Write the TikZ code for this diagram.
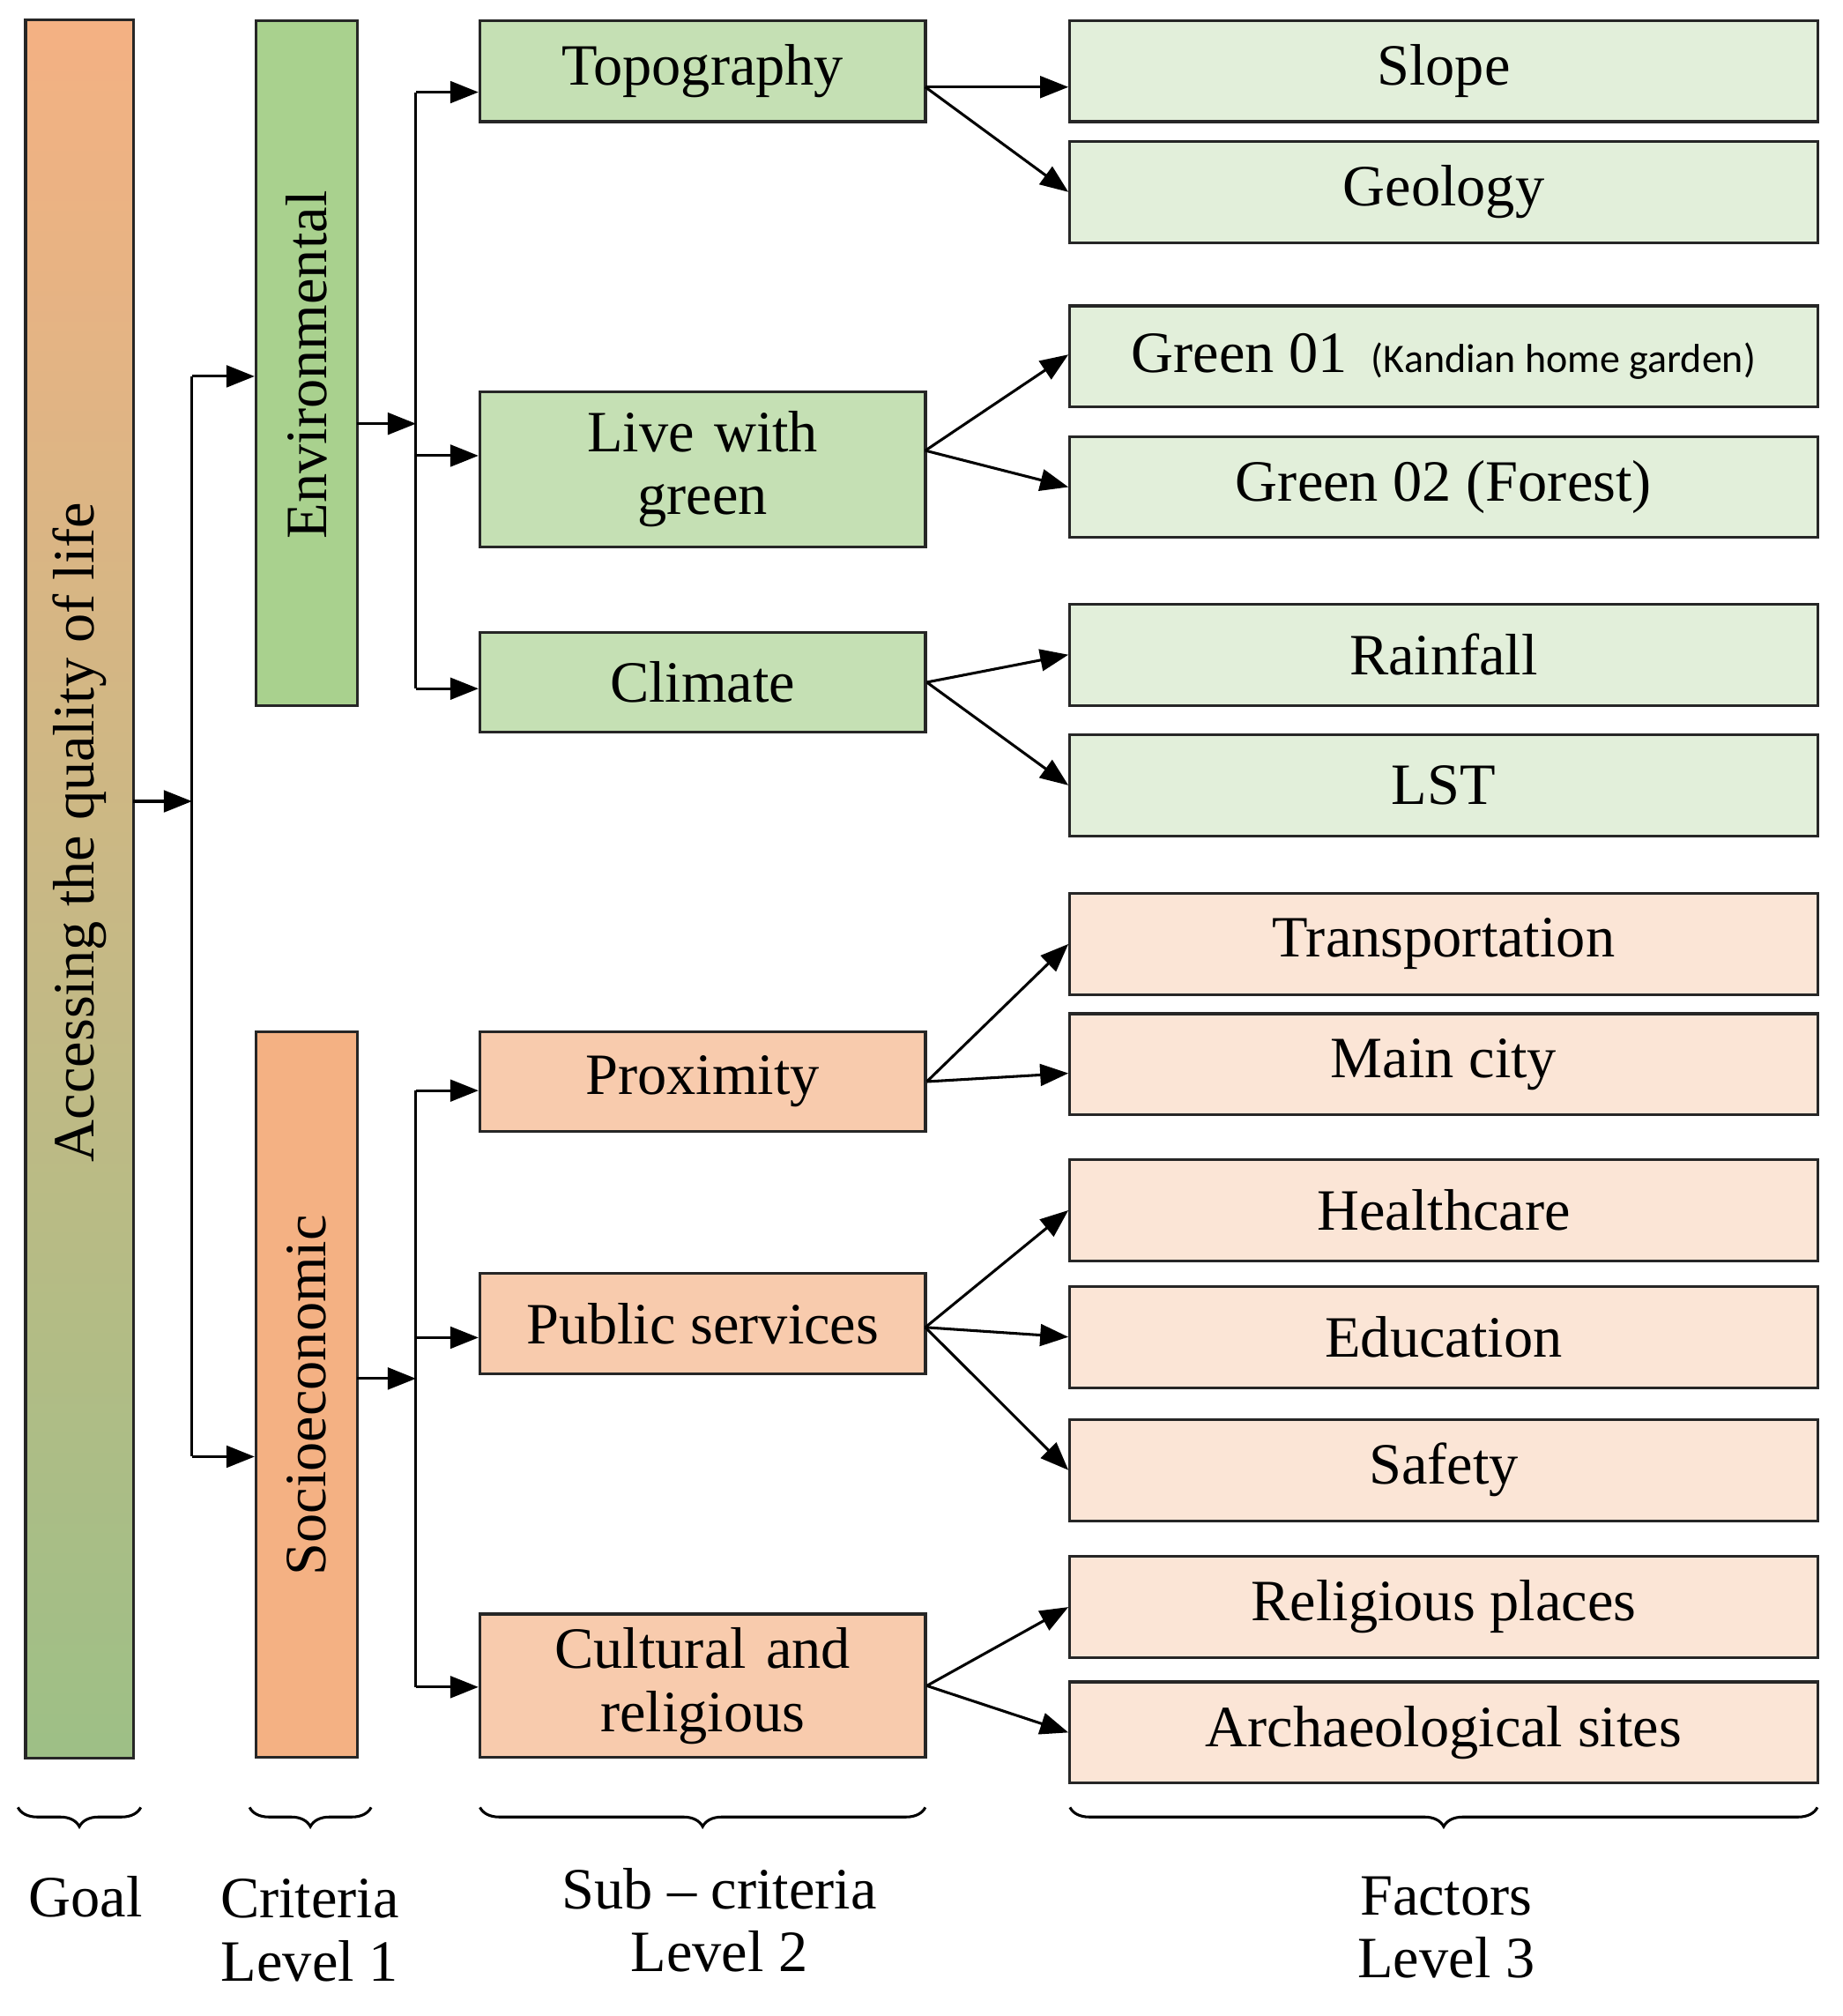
\documentclass[tikz,border=0pt]{standalone}
\usepackage{fontspec}
\setmainfont{Liberation Serif}
\newfontfamily\calfont{Carlito}
\usetikzlibrary{arrows.meta,decorations.pathreplacing}
\definecolor{gA}{HTML}{A9D18E}\definecolor{gB}{HTML}{C5E0B4}\definecolor{gC}{HTML}{E2EFDA}
\definecolor{oA}{HTML}{F4B183}\definecolor{oB}{HTML}{F8CBAD}\definecolor{oC}{HTML}{FBE5D6}
\begin{document}
\begin{tikzpicture}[x=0.01cm,y=-0.01cm,
 bx/.style={draw=black!85,line width=0.6pt,inner sep=0pt,font=\fontsize{13}{16}\selectfont,align=center},
 arr/.style={-{Triangle[length=0.22cm,width=0.17cm]},line width=0.6pt},
 ln/.style={line width=0.6pt},
 br/.style={decorate,decoration={brace,mirror,amplitude=0.15cm},line width=0.6pt},
 lab/.style={font=\fontsize{13}{16}\selectfont,align=center}]
\useasboundingbox (0,0) rectangle (1440,1575);
\newcommand\bb[6]{\node[bx,fill=#6,minimum width={(#3-#2)*0.01cm},minimum height={(#5-#4)*0.01cm}] (#1) at ({(#2+#3)/2},{(#4+#5)/2}) {};}
% goal
\node[draw=black!85,line width=0.6pt,inner sep=0pt,minimum width=0.84cm,minimum height=13.57cm,top color=oA,bottom color=gA!90!black!95,shading angle=0] (goal) at (62,694.5) {};
\node[rotate=90,font=\fontsize{13}{16}\selectfont] at (62,650) {Accessing the quality of life};
% level 1
\bb{env}{200}{279}{16}{551}{gA}
\node[rotate=90,font=\fontsize{13}{16}\selectfont] at (239.5,285) {Environmental};
\bb{soc}{200}{279}{806}{1373}{oA}
\node[rotate=90,font=\fontsize{13}{16}\selectfont] at (239.5,1090) {Socioeconomic};
% level 2
\node[bx,fill=gB,minimum width=3.48cm,minimum height=0.79cm] (topo) at (549,55.5) {Topography};
\node[bx,fill=gB,minimum width=3.48cm,minimum height=1.21cm,text width=3.3cm] (live) at (549,366.5) {Live with\\[-2pt] green};
\node[bx,fill=gB,minimum width=3.48cm,minimum height=0.78cm] (clim) at (549,533) {Climate};
\node[bx,fill=oB,minimum width=3.48cm,minimum height=0.78cm] (prox) at (549,845) {Proximity};
\node[bx,fill=oB,minimum width=3.48cm,minimum height=0.78cm] (pub) at (549,1034) {Public services};
\node[bx,fill=oB,minimum width=3.48cm,minimum height=1.12cm,text width=3.3cm] (cult) at (549,1317) {Cultural and\\[-2pt] religious};
% level 3
\newcommand\ff[4]{\node[bx,fill=#4,minimum width=5.84cm,minimum height=0.79cm] (#1) at (1128,#2) {#3};}
\ff{slope}{55.5}{Slope}{gC}
\ff{geol}{150}{Geology}{gC}
\ff{gone}{278.5}{Green 01 {\calfont\fontsize{9}{10}\selectfont\ (Kandian home garden)}}{gC}
\ff{gtwo}{380.5}{Green 02 (Forest)}{gC}
\ff{rain}{511.5}{Rainfall}{gC}
\ff{lst}{613.5}{LST}{gC}
\ff{trans}{737.5}{Transportation}{oC}
\ff{city}{831.5}{Main city}{oC}
\ff{health}{945.5}{Healthcare}{oC}
\ff{edu}{1044.5}{Education}{oC}
\ff{safe}{1148.5}{Safety}{oC}
\ff{relig}{1255.5}{Religious places}{oC}
\ff{arch}{1353.5}{Archaeological sites}{oC}
% trunk connectors
\coordinate (g0) at (104,626); \coordinate (g1) at (150,626);
\coordinate (g2) at (150,294); \coordinate (g3) at (150,1138);
\draw[arr] (g0) -- (g1);
\draw[ln] (g2) -- (g3);
\draw[arr] (g2) -- (env.west|-g2);
\draw[arr] (g3) -- (soc.west|-g3);
\coordinate (e0) at (279,331); \coordinate (e1) at (325,331);
\coordinate (e2) at (325,72); \coordinate (e3) at (325,356); \coordinate (e4) at (325,538);
\draw[arr] (e0) -- (e1); \draw[ln] (e2) -- (e4);
\draw[arr] (e2) -- (topo.west|-e2); \draw[arr] (e3) -- (live.west|-e3); \draw[arr] (e4) -- (clim.west|-e4);
\coordinate (s0) at (279,1077); \coordinate (s1) at (325,1077);
\coordinate (s2) at (325,852); \coordinate (s3) at (325,1045); \coordinate (s4) at (325,1318);
\draw[arr] (s0) -- (s1); \draw[ln] (s2) -- (s4);
\draw[arr] (s2) -- (prox.west|-s2); \draw[arr] (s3) -- (pub.west|-s3); \draw[arr] (s4) -- (cult.west|-s4);
% level 3 arrows
\coordinate (t0) at (723,68);
\draw[arr] (t0) -- (slope.west|-t0); \draw[arr] (t0) -- (geol.west);
\coordinate (l0) at (723,352);
\draw[arr] (l0) -- ([yshift=0.015cm]gone.west); \draw[arr] (l0) -- (gtwo.west);
\draw[arr] (clim.east) -- (rain.west); \draw[arr] (clim.east) -- (lst.west);
\draw[arr] (prox.east) -- (trans.west); \draw[arr] (prox.east) -- ([yshift=-0.07cm]city.west);
\coordinate (p0) at (723,1037);
\draw[arr] (p0) -- (health.west); \draw[arr] (p0) -- (edu.west); \draw[arr] (p0) -- (safe.west);
\draw[arr] (cult.east) -- (relig.west); \draw[arr] (cult.east) -- (arch.west);
% braces
\draw[br] (14,1412) -- (110,1412);
\draw[br] (195,1412) -- (290,1412);
\draw[br] (375,1412) -- (723,1412);
\draw[br] (836,1412) -- (1420,1412);
\node[lab] (lg) at (67,1482) {Goal};
\node[lab] (lc) at (242,1508) {Criteria\\[-2pt] Level 1};
\node[lab] (ls) at (562,1500) {Sub -- criteria\\[-2pt] Level 2};
\node[lab] (lf) at (1130,1506) {Factors\\[-2pt] Level 3};
\end{tikzpicture}
\end{document}
